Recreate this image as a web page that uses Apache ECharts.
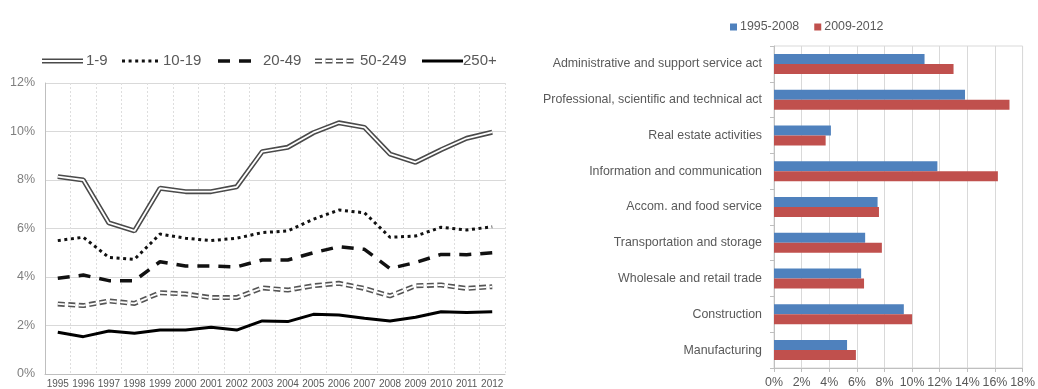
<!DOCTYPE html>
<html>
<head>
<meta charset="utf-8">
<script src="https://cdn.jsdelivr.net/npm/echarts@6/dist/echarts.min.js"></script>
<style>
html,body{margin:0;padding:0;background:#fff;}
#chart{width:1038px;height:389px;}
</style>
</head>
<body>
<div id="chart"></div>
<script>
// ---- Left chart data ----
var years = ['1995','1996','1997','1998','1999','2000','2001','2002','2003','2004','2005','2006','2007','2008','2009','2010','2011','2012'];
var size1_9    = [8.14, 8.00, 6.23, 5.90, 7.66, 7.52, 7.52, 7.72, 9.17, 9.35, 9.95, 10.36, 10.17, 9.07, 8.73, 9.25, 9.72, 9.97];
var size10_19  = [5.50, 5.64, 4.81, 4.73, 5.77, 5.60, 5.50, 5.60, 5.83, 5.90, 6.38, 6.76, 6.65, 5.64, 5.69, 6.05, 5.94, 6.07];
var size20_49  = [3.95, 4.08, 3.85, 3.85, 4.63, 4.45, 4.45, 4.42, 4.70, 4.70, 5.00, 5.25, 5.14, 4.35, 4.60, 4.93, 4.92, 5.00];
var size50_249 = [2.89, 2.82, 3.01, 2.91, 3.35, 3.30, 3.15, 3.15, 3.55, 3.46, 3.64, 3.74, 3.53, 3.22, 3.64, 3.67, 3.53, 3.60];
var size250    = [1.72, 1.54, 1.77, 1.68, 1.81, 1.81, 1.93, 1.81, 2.19, 2.16, 2.46, 2.43, 2.30, 2.19, 2.34, 2.57, 2.54, 2.57];
var leftTicks  = [0, 2, 4, 6, 8, 10, 12];

// ---- Right chart data (bottom to top) ----
var sectors = ['Manufacturing','Construction','Wholesale and retail trade','Transportation and storage','Accom. and food service','Information and communication','Real estate activities','Professional, scientific and technical act','Administrative and support service act'];
var period1 = [5.29, 9.40, 6.31, 6.60, 7.50, 11.83, 4.12, 13.83, 10.90];
var period2 = [5.93, 10.00, 6.52, 7.81, 7.60, 16.21, 3.74, 17.05, 13.00];
var rightTicks = [0, 2, 4, 6, 8, 10, 12, 14, 16, 18];

var FONT = 'Arial, "Liberation Sans", sans-serif';
var TXT = '#595959';

var chart = echarts.init(document.getElementById('chart'), null, {renderer: 'canvas'});

function legendLine(x1, x2, y, style) {
  return {type: 'line', shape: {x1: x1, y1: y, x2: x2, y2: y}, style: style, silent: true};
}
function legendText(x, y, t) {
  return {type: 'text', x: x, y: y, style: {text: t, fill: TXT, font: '15px ' + FONT, textVerticalAlign: 'middle'}, silent: true};
}
var LY = 61;
var graphics = [
  legendLine(42, 83, LY, {stroke: '#4a4a4a', lineWidth: 5}),
  legendLine(42, 83, LY, {stroke: '#fff', lineWidth: 1.8}),
  legendText(86, LY, '1-9'),
  legendLine(122, 160, LY, {stroke: '#111', lineWidth: 3, lineDash: [3, 3.6]}),
  legendText(163, LY, '10-19'),
  legendLine(218, 251, LY, {stroke: '#111', lineWidth: 3.5, lineDash: [12, 9]}),
  legendText(263, LY, '20-49'),
  legendLine(315, 356, LY, {stroke: '#555', lineWidth: 5, lineDash: [7, 3.5]}),
  legendLine(315, 356, LY, {stroke: '#fff', lineWidth: 1.8, lineDash: [7, 3.5]}),
  legendText(360, LY, '50-249'),
  legendLine(422, 463, LY, {stroke: '#000', lineWidth: 3}),
  legendText(463, LY, '250+')
];

var option = {
  animation: false,
  backgroundColor: '#fff',
  textStyle: {fontFamily: FONT},
  graphic: graphics,
  legend: {
    data: ['1995-2008', '2009-2012'],
    left: 725, top: 16,
    itemWidth: 7, itemHeight: 7, itemGap: 15,
    icon: 'rect',
    textStyle: {color: TXT, fontSize: 12.4, fontFamily: FONT, padding: [0, 0, 0, -2]}
  },
  grid: [
    {left: 45, right: 533, top: 83, bottom: 15},
    {left: 774, right: 12, top: 46, bottom: 19, show: true, borderColor: '#d9d9d9', borderWidth: 1}
  ],
  xAxis: [
    {
      gridIndex: 0, type: 'category', data: years, boundaryGap: true,
      axisLine: {show: true, lineStyle: {color: '#bfbfbf'}},
      axisTick: {show: false},
      axisLabel: {interval: 0, fontSize: 10, color: TXT, margin: 5, fontFamily: FONT},
      splitLine: {show: true, interval: 0, lineStyle: {color: '#dedede', type: [2, 2]}}
    },
    {
      gridIndex: 1, type: 'value', min: rightTicks[0], max: rightTicks[rightTicks.length - 1], interval: 2,
      axisLine: {show: true, lineStyle: {color: '#bfbfbf'}},
      axisTick: {show: true, length: 4, lineStyle: {color: '#bfbfbf'}},
      axisLabel: {formatter: '{value}%', fontSize: 12.4, color: TXT, margin: 9, fontFamily: FONT},
      splitLine: {show: true, lineStyle: {color: '#d9d9d9'}}
    }
  ],
  yAxis: [
    {
      gridIndex: 0, type: 'value', min: leftTicks[0], max: leftTicks[leftTicks.length - 1], interval: 2,
      axisLine: {show: true, lineStyle: {color: '#bfbfbf'}},
      axisTick: {show: false},
      axisLabel: {formatter: '{value}%', fontSize: 12.5, color: '#7f7f7f', margin: 10, fontFamily: FONT},
      splitLine: {show: true, lineStyle: {color: '#d9d9d9'}}
    },
    {
      gridIndex: 1, type: 'category', data: sectors, boundaryGap: true,
      axisLine: {show: true, lineStyle: {color: '#bfbfbf'}},
      axisTick: {show: true, length: 4, inside: false, lineStyle: {color: '#bfbfbf'}},
      axisLabel: {interval: 0, fontSize: 12.4, color: TXT, margin: 12, fontFamily: FONT},
      splitLine: {show: false}
    }
  ],
  series: [
    {name: '1-9', type: 'line', xAxisIndex: 0, yAxisIndex: 0, data: size1_9, showSymbol: false, z: 2,
      lineStyle: {color: '#4a4a4a', width: 5}, itemStyle: {color: '#4a4a4a'}},
    {name: '1-9 inner', type: 'line', xAxisIndex: 0, yAxisIndex: 0, data: size1_9, showSymbol: false, z: 3,
      lineStyle: {color: '#ffffff', width: 1.8}},
    {name: '10-19', type: 'line', xAxisIndex: 0, yAxisIndex: 0, data: size10_19, showSymbol: false, z: 2,
      lineStyle: {color: '#111', width: 3, type: [3, 3.6]}},
    {name: '20-49', type: 'line', xAxisIndex: 0, yAxisIndex: 0, data: size20_49, showSymbol: false, z: 2,
      lineStyle: {color: '#111', width: 3.5, type: [12, 9]}},
    {name: '50-249', type: 'line', xAxisIndex: 0, yAxisIndex: 0, data: size50_249, showSymbol: false, z: 2,
      lineStyle: {color: '#555', width: 5, type: [7, 3.5]}},
    {name: '50-249 inner', type: 'line', xAxisIndex: 0, yAxisIndex: 0, data: size50_249, showSymbol: false, z: 3,
      lineStyle: {color: '#fff', width: 1.8, type: [7, 3.5]}},
    {name: '250+', type: 'line', xAxisIndex: 0, yAxisIndex: 0, data: size250, showSymbol: false, z: 2,
      lineStyle: {color: '#000', width: 3}},
    {name: '1995-2008', type: 'bar', xAxisIndex: 1, yAxisIndex: 1, data: period1,
      barWidth: 10, barGap: '0%', itemStyle: {color: '#4F81BD'}},
    {name: '2009-2012', type: 'bar', xAxisIndex: 1, yAxisIndex: 1, data: period2,
      barWidth: 10, barGap: '0%', itemStyle: {color: '#C0504D'}}
  ]
};
chart.setOption(option);
</script>
</body>
</html>
